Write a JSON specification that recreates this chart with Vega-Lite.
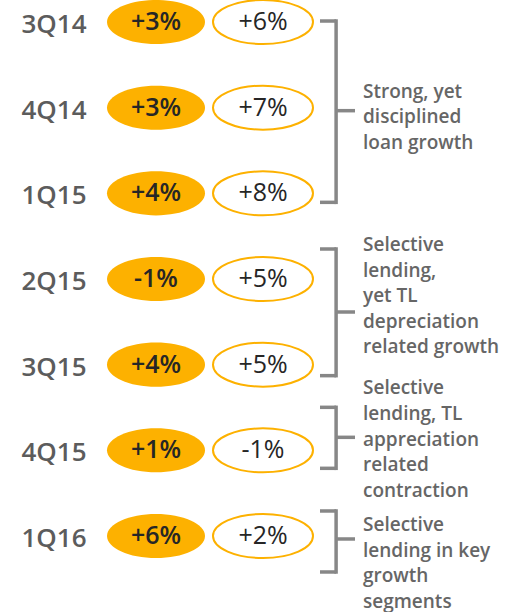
{
  "$schema": "https://vega.github.io/schema/vega-lite/v6.json",
  "padding": {"top": -4, "left": 0, "right": 0, "bottom": 0},
  "spacing": 0,
  "bounds": "flush",
  "config": {
    "view": {"stroke": null},
    "concat": {"spacing": 0},
    "font": "Open Sans",
    "rule": {"color": "#878787", "strokeWidth": 3.5},
    "locale": {"number": {"decimal": ".", "thousands": ",", "grouping": [3], "currency": ["$", ""], "minus": "-"}}
  },
  "datasets": {
    "growth": [
      {"quarter": "3Q14", "qoq": 0.03, "yoy": 0.06},
      {"quarter": "4Q14", "qoq": 0.03, "yoy": 0.07},
      {"quarter": "1Q15", "qoq": 0.04, "yoy": 0.08},
      {"quarter": "2Q15", "qoq": -0.01, "yoy": 0.05},
      {"quarter": "3Q15", "qoq": 0.04, "yoy": 0.05},
      {"quarter": "4Q15", "qoq": 0.01, "yoy": -0.01},
      {"quarter": "1Q16", "qoq": 0.06, "yoy": 0.02}
    ],
    "groups": [
      {"group": "G1", "from": "3Q14", "to": "1Q15", "tipAt": "4Q14", "note": "Strong, yet\ndisciplined\nloan growth"},
      {"group": "G2", "from": "2Q15", "to": "3Q15", "tipAt": "2Q15", "note": "Selective\nlending,\nyet TL\ndepreciation\nrelated growth"},
      {"group": "G3", "from": "4Q15", "to": "4Q15", "tipAt": "4Q15", "note": "Selective\nlending, TL\nappreciation\nrelated\ncontraction"},
      {"group": "G4", "from": "1Q16", "to": "1Q16", "tipAt": "1Q16", "note": "Selective\nlending in key\ngrowth\nsegments"}
    ]
  },
  "hconcat": [
    {
      "width": 106,
      "height": 558,
      "data": {"name": "growth"},
      "mark": {"type": "text", "fontSize": 26, "fontWeight": 600, "fill": "#5c5c5c", "baseline": "middle", "dy": 3, "dx": 1},
      "encoding": {
        "y": {"field": "quarter", "type": "ordinal", "scale": {"type": "point", "domain": ["3Q14", "4Q14", "1Q15", "2Q15", "3Q15", "4Q15", "1Q16"], "padding": 0.257}, "axis": null},
        "text": {"field": "quarter"}
      }
    },
    {
      "width": 100,
      "height": 558,
      "data": {"name": "growth"},
      "encoding": {
        "y": {"field": "quarter", "type": "ordinal", "scale": {"type": "point", "domain": ["3Q14", "4Q14", "1Q15", "2Q15", "3Q15", "4Q15", "1Q16"], "padding": 0.257}, "axis": null}
      },
      "layer": [
        {"mark": {"type": "point", "shape": "M -1 0 A 1 0.45 0 1 0 1 0 A 1 0.45 0 1 0 -1 0 Z", "size": 9604, "filled": true, "fill": "#FDB100", "opacity": 1, "strokeWidth": 0}},
        {"mark": {"type": "text", "fontSize": 25, "fontWeight": 600, "fill": "#262626", "baseline": "middle"},
         "encoding": {"text": {"field": "qoq", "type": "quantitative", "format": "+.0%"}}}
      ]
    },
    {
      "width": 114,
      "height": 558,
      "data": {"name": "growth"},
      "encoding": {
        "y": {"field": "quarter", "type": "ordinal", "scale": {"type": "point", "domain": ["3Q14", "4Q14", "1Q15", "2Q15", "3Q15", "4Q15", "1Q16"], "padding": 0.257}, "axis": null}
      },
      "layer": [
        {"mark": {"type": "point", "shape": "M -1 0 A 1 0.44 0 1 0 1 0 A 1 0.44 0 1 0 -1 0 Z", "size": 10000, "filled": false, "fill": "#ffffff", "fillOpacity": 1, "stroke": "#FDB100", "strokeWidth": 2, "opacity": 1}},
        {"mark": {"type": "text", "fontSize": 25, "fontWeight": 500, "fill": "#262626", "baseline": "middle"},
         "encoding": {"text": {"field": "yoy", "type": "quantitative", "format": "+.0%"}}}
      ]
    },
    {
      "width": 35,
      "height": 558,
      "data": {"name": "groups"},
      "encoding": {
        "x": {"datum": 0.46, "type": "quantitative", "scale": {"domain": [0, 1]}, "axis": null}
      },
      "layer": [
        {
          "transform": [{"filter": "datum.group === 'G1'"}],
          "layer": [
            {"mark": {"type": "rule", "strokeCap": "square", "yOffset": -1, "y2Offset": 9},
             "encoding": {"y": {"field": "from", "type": "ordinal", "scale": {"type": "point", "domain": ["3Q14", "4Q14", "1Q15", "2Q15", "3Q15", "4Q15", "1Q16"], "padding": 0.257}, "axis": null}, "y2": {"field": "to"}}},
            {"mark": {"type": "rule", "strokeCap": "butt", "yOffset": -1},
             "encoding": {"x": {"datum": 0}, "x2": {"datum": 0.46}, "y": {"field": "from", "type": "ordinal", "scale": {"type": "point", "domain": ["3Q14", "4Q14", "1Q15", "2Q15", "3Q15", "4Q15", "1Q16"], "padding": 0.257}, "axis": null}}},
            {"mark": {"type": "rule", "strokeCap": "butt", "yOffset": 9},
             "encoding": {"x": {"datum": 0}, "x2": {"datum": 0.46}, "y": {"field": "to", "type": "ordinal", "scale": {"type": "point", "domain": ["3Q14", "4Q14", "1Q15", "2Q15", "3Q15", "4Q15", "1Q16"], "padding": 0.257}, "axis": null}}},
            {"mark": {"type": "rule", "strokeCap": "butt", "yOffset": 3},
             "encoding": {"x2": {"datum": 1}, "y": {"field": "tipAt", "type": "ordinal", "scale": {"type": "point", "domain": ["3Q14", "4Q14", "1Q15", "2Q15", "3Q15", "4Q15", "1Q16"], "padding": 0.257}, "axis": null}}}
          ]
        },
        {
          "transform": [{"filter": "datum.group === 'G2'"}],
          "layer": [
            {"mark": {"type": "rule", "strokeCap": "square", "yOffset": -30, "y2Offset": 11},
             "encoding": {"y": {"field": "from", "type": "ordinal", "scale": {"type": "point", "domain": ["3Q14", "4Q14", "1Q15", "2Q15", "3Q15", "4Q15", "1Q16"], "padding": 0.257}, "axis": null}, "y2": {"field": "to"}}},
            {"mark": {"type": "rule", "strokeCap": "butt", "yOffset": -30},
             "encoding": {"x": {"datum": 0}, "x2": {"datum": 0.46}, "y": {"field": "from", "type": "ordinal", "scale": {"type": "point", "domain": ["3Q14", "4Q14", "1Q15", "2Q15", "3Q15", "4Q15", "1Q16"], "padding": 0.257}, "axis": null}}},
            {"mark": {"type": "rule", "strokeCap": "butt", "yOffset": 11},
             "encoding": {"x": {"datum": 0}, "x2": {"datum": 0.46}, "y": {"field": "to", "type": "ordinal", "scale": {"type": "point", "domain": ["3Q14", "4Q14", "1Q15", "2Q15", "3Q15", "4Q15", "1Q16"], "padding": 0.257}, "axis": null}}},
            {"mark": {"type": "rule", "strokeCap": "butt", "yOffset": 33},
             "encoding": {"x2": {"datum": 1}, "y": {"field": "tipAt", "type": "ordinal", "scale": {"type": "point", "domain": ["3Q14", "4Q14", "1Q15", "2Q15", "3Q15", "4Q15", "1Q16"], "padding": 0.257}, "axis": null}}}
          ]
        },
        {
          "transform": [{"filter": "datum.group === 'G3'"}],
          "layer": [
            {"mark": {"type": "rule", "strokeCap": "square", "yOffset": -43, "y2Offset": 18},
             "encoding": {"y": {"field": "from", "type": "ordinal", "scale": {"type": "point", "domain": ["3Q14", "4Q14", "1Q15", "2Q15", "3Q15", "4Q15", "1Q16"], "padding": 0.257}, "axis": null}, "y2": {"field": "to"}}},
            {"mark": {"type": "rule", "strokeCap": "butt", "yOffset": -43},
             "encoding": {"x": {"datum": 0}, "x2": {"datum": 0.46}, "y": {"field": "from", "type": "ordinal", "scale": {"type": "point", "domain": ["3Q14", "4Q14", "1Q15", "2Q15", "3Q15", "4Q15", "1Q16"], "padding": 0.257}, "axis": null}}},
            {"mark": {"type": "rule", "strokeCap": "butt", "yOffset": 18},
             "encoding": {"x": {"datum": 0}, "x2": {"datum": 0.46}, "y": {"field": "to", "type": "ordinal", "scale": {"type": "point", "domain": ["3Q14", "4Q14", "1Q15", "2Q15", "3Q15", "4Q15", "1Q16"], "padding": 0.257}, "axis": null}}},
            {"mark": {"type": "rule", "strokeCap": "butt", "yOffset": -13},
             "encoding": {"x2": {"datum": 1}, "y": {"field": "tipAt", "type": "ordinal", "scale": {"type": "point", "domain": ["3Q14", "4Q14", "1Q15", "2Q15", "3Q15", "4Q15", "1Q16"], "padding": 0.257}, "axis": null}}}
          ]
        },
        {
          "transform": [{"filter": "datum.group === 'G4'"}],
          "layer": [
            {"mark": {"type": "rule", "strokeCap": "square", "yOffset": -25, "y2Offset": 36},
             "encoding": {"y": {"field": "from", "type": "ordinal", "scale": {"type": "point", "domain": ["3Q14", "4Q14", "1Q15", "2Q15", "3Q15", "4Q15", "1Q16"], "padding": 0.257}, "axis": null}, "y2": {"field": "to"}}},
            {"mark": {"type": "rule", "strokeCap": "butt", "yOffset": -25},
             "encoding": {"x": {"datum": 0}, "x2": {"datum": 0.46}, "y": {"field": "from", "type": "ordinal", "scale": {"type": "point", "domain": ["3Q14", "4Q14", "1Q15", "2Q15", "3Q15", "4Q15", "1Q16"], "padding": 0.257}, "axis": null}}},
            {"mark": {"type": "rule", "strokeCap": "butt", "yOffset": 36},
             "encoding": {"x": {"datum": 0}, "x2": {"datum": 0.46}, "y": {"field": "to", "type": "ordinal", "scale": {"type": "point", "domain": ["3Q14", "4Q14", "1Q15", "2Q15", "3Q15", "4Q15", "1Q16"], "padding": 0.257}, "axis": null}}},
            {"mark": {"type": "rule", "strokeCap": "butt", "yOffset": 3},
             "encoding": {"x2": {"datum": 1}, "y": {"field": "tipAt", "type": "ordinal", "scale": {"type": "point", "domain": ["3Q14", "4Q14", "1Q15", "2Q15", "3Q15", "4Q15", "1Q16"], "padding": 0.257}, "axis": null}}}
          ]
        }
      ]
    },
    {
      "width": 16,
      "height": 558,
      "data": {"name": "groups"},
      "encoding": {
        "y": {"field": "tipAt", "type": "ordinal", "scale": {"type": "point", "domain": ["3Q14", "4Q14", "1Q15", "2Q15", "3Q15", "4Q15", "1Q16"], "padding": 0.257}, "axis": null},
        "text": {"field": "note"}
      },
      "layer": [
        {"transform": [{"filter": "datum.group === 'G1'"}],
         "mark": {"type": "text", "align": "left", "baseline": "middle", "fontSize": 19, "fontWeight": 600, "fill": "#666666", "lineHeight": 25.6, "lineBreak": "\n", "dy": -16}},
        {"transform": [{"filter": "datum.group === 'G2'"}],
         "mark": {"type": "text", "align": "left", "baseline": "middle", "fontSize": 19, "fontWeight": 600, "fill": "#666666", "lineHeight": 25.6, "lineBreak": "\n", "dy": -34}},
        {"transform": [{"filter": "datum.group === 'G3'"}],
         "mark": {"type": "text", "align": "left", "baseline": "middle", "fontSize": 19, "fontWeight": 600, "fill": "#666666", "lineHeight": 25.6, "lineBreak": "\n", "dy": -62}},
        {"transform": [{"filter": "datum.group === 'G4'"}],
         "mark": {"type": "text", "align": "left", "baseline": "middle", "fontSize": 19, "fontWeight": 600, "fill": "#666666", "lineHeight": 25.6, "lineBreak": "\n", "dy": -11}}
      ]
    }
  ]
}
